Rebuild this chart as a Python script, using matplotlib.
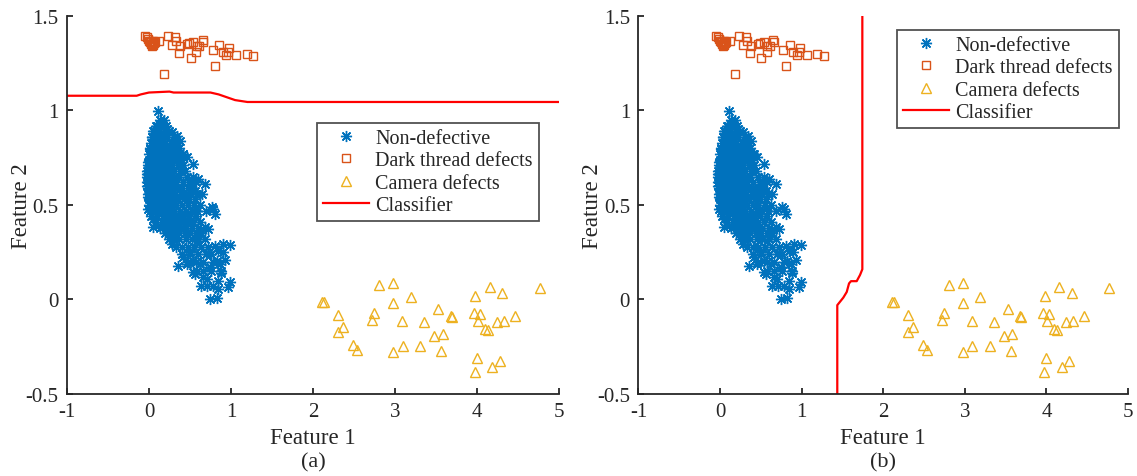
import numpy as np
import matplotlib
matplotlib.use('Agg')
import matplotlib.pyplot as plt

plt.rcParams['font.family'] = ['Liberation Serif', 'DejaVu Serif']
plt.rcParams['axes.unicode_minus'] = False

# non-defective samples: dense core read row by row (y, list of x)
nd_core_rows = [
    (0.95, [0.13, 0.18]),
    (0.92, [0.09, 0.15, 0.21]),
    (0.89, [0.06, 0.12, 0.19, 0.25]),
    (0.86, [0.04, 0.10, 0.16, 0.22, 0.30]),
    (0.83, [0.02, 0.08, 0.14, 0.20, 0.27, 0.34]),
    (0.80, [0.01, 0.06, 0.12, 0.18, 0.24, 0.31, 0.37]),
    (0.77, [0.00, 0.05, 0.11, 0.17, 0.23, 0.29, 0.36, 0.41]),
    (0.74, [0.00, 0.04, 0.09, 0.15, 0.21, 0.27, 0.33, 0.39]),
    (0.71, [-0.01, 0.04, 0.10, 0.16, 0.22, 0.28, 0.35, 0.42]),
    (0.68, [-0.02, 0.03, 0.08, 0.14, 0.20, 0.26, 0.31, 0.38]),
    (0.65, [-0.02, 0.02, 0.07, 0.13, 0.19, 0.25, 0.30, 0.37, 0.46, 0.54]),
    (0.62, [-0.02, 0.03, 0.09, 0.15, 0.21, 0.27, 0.33, 0.41, 0.49, 0.57]),
    (0.59, [-0.01, 0.04, 0.10, 0.16, 0.22, 0.28, 0.34, 0.40, 0.47, 0.53]),
    (0.56, [-0.01, 0.03, 0.08, 0.14, 0.20, 0.26, 0.32, 0.39, 0.45, 0.51, 0.59]),
    (0.53, [0.00, 0.05, 0.11, 0.17, 0.23, 0.29, 0.36, 0.43, 0.49, 0.56]),
    (0.50, [0.00, 0.04, 0.09, 0.15, 0.21, 0.27, 0.33, 0.40, 0.47, 0.55, 0.62]),
    (0.47, [0.01, 0.07, 0.13, 0.19, 0.25, 0.31, 0.38, 0.45, 0.52, 0.59, 0.69]),
    (0.44, [0.03, 0.10, 0.17, 0.23, 0.29, 0.36, 0.42, 0.49, 0.57]),
    (0.41, [0.08, 0.16, 0.22, 0.28, 0.34, 0.41, 0.47, 0.54, 0.62]),
    (0.38, [0.14, 0.21, 0.27, 0.33, 0.39, 0.45, 0.52, 0.60]),
    (0.35, [0.20, 0.26, 0.31, 0.37, 0.44, 0.50, 0.57, 0.64]),
    (0.32, [0.24, 0.30, 0.37, 0.45, 0.52, 0.60, 0.68]),
    (0.28, [0.33, 0.40, 0.47, 0.55, 0.64, 0.72]),
    (0.24, [0.40, 0.50, 0.60, 0.70, 0.76]),
    (0.20, [0.47, 0.57, 0.66, 0.78]),
    (0.15, [0.58, 0.66, 0.76, 0.88]),
    (0.07, [0.64, 0.71, 0.78]),
]

# non-defective samples scattered around the edge of the cluster
nd_edge = [
    (0.106, 0.999), (0.155, 0.937), (0.094, 0.920), (0.216, 0.902), (0.053, 0.893),
    (0.277, 0.885), (0.338, 0.867), (0.378, 0.840), (0.033, 0.858), (0.012, 0.796),
    (0.277, 0.823), (0.419, 0.770), (0.459, 0.752), (0.541, 0.717), (-0.008, 0.726),
    (-0.028, 0.664), (0.439, 0.682), (0.602, 0.638), (0.683, 0.611), (0.520, 0.629),
    (-0.028, 0.602), (-0.008, 0.541), (0.561, 0.576), (0.642, 0.558), (0.764, 0.488),
    (-0.008, 0.479), (0.785, 0.479), (0.805, 0.452), (0.053, 0.426), (0.175, 0.382),
    (0.276, 0.294), (0.419, 0.417), (0.683, 0.382), (0.581, 0.311), (0.724, 0.373),
    (0.805, 0.285), (0.907, 0.294), (0.988, 0.290), (0.846, 0.258), (0.419, 0.223),
    (0.358, 0.179), (0.459, 0.188), (0.541, 0.144), (0.561, 0.135), (0.663, 0.117),
    (0.703, 0.108), (0.825, 0.205), (0.866, 0.188), (0.744, 0.170), (0.622, 0.188),
    (0.846, 0.100), (0.988, 0.091), (0.967, 0.064), (0.846, 0.056), (0.744, 0.003),
    (0.825, 0.008), (0.500, 0.250), (0.541, 0.205), (0.052, 0.382), (0.90, 0.25),
    (0.93, 0.21), (0.88, 0.14),
]

dark_x = [-0.028, -0.049, -0.009, 0.012, 0.033, 0.053, 0.073, 0.02, 0.04, 0.0, 0.06, 0.03,
          0.05, 0.126, 0.236, 0.317, 0.329, 0.277, 0.378, 0.37, 0.467, 0.492, 0.54, 0.581,
          0.614, 0.573, 0.654, 0.662, 0.508, 0.777, 0.857, 0.899, 0.939, 0.979, 0.967,
          1.061, 1.191, 1.272, 0.805, 0.183]
dark_y = [1.387, 1.396, 1.378, 1.361, 1.352, 1.369, 1.361, 1.35, 1.34, 1.37, 1.355, 1.365,
          1.345, 1.369, 1.393, 1.387, 1.369, 1.347, 1.34, 1.304, 1.352, 1.357, 1.364, 1.343,
          1.34, 1.308, 1.375, 1.361, 1.276, 1.322, 1.347, 1.308, 1.294, 1.329, 1.308,
          1.294, 1.301, 1.287, 1.237, 1.191]

camera_x = [2.106, 2.138, 2.309, 2.362, 2.309, 2.492, 2.533, 2.805, 2.972, 3.191, 2.972,
            2.744, 2.723, 3.082, 2.972, 3.094, 3.305, 3.357, 3.524, 3.48, 3.582, 3.561,
            3.679, 3.691, 3.98, 4.159, 4.309, 3.96, 4.037, 4.009, 4.098, 4.13, 4.24, 4.329,
            4.463, 4.768, 3.996, 3.976, 4.187, 4.28]
camera_y = [-0.015, -0.015, -0.082, -0.147, -0.174, -0.241, -0.267, 0.077, 0.087, 0.015,
            -0.019, -0.073, -0.107, -0.115, -0.28, -0.248, -0.248, -0.121, -0.05, -0.195,
            -0.183, -0.271, -0.089, -0.094, 0.017, 0.065, 0.034, -0.071, -0.077, -0.115,
            -0.156, -0.161, -0.121, -0.112, -0.086, 0.059, -0.308, -0.382, -0.357, -0.325]

# decision boundaries
clf_a_x = [-1, -0.15, -0.1, 0.0, 0.25, 0.3, 0.75, 0.85, 0.95, 1.05, 1.2, 5]
clf_a_y = [1.078, 1.078, 1.085, 1.095, 1.10, 1.095, 1.095, 1.085, 1.07, 1.055, 1.045, 1.045]
clf_b_x = [1.437, 1.437, 1.511, 1.553, 1.581, 1.605, 1.675, 1.716, 1.744, 1.744]
clf_b_y = [-0.5, -0.03, 0.01, 0.04, 0.085, 0.097, 0.097, 0.13, 0.16, 1.5]

nd = [(x, y) for y, xs in nd_core_rows for x in xs] + nd_edge
nd_x = np.array([p[0] for p in nd])
nd_y = np.array([p[1] for p in nd])

blue = '#0072BD'
orange = '#D95319'
yellow = '#EDB120'
axcol = '#262626'


def draw_panel(ax, cx, cy, leg_anchor, tag):
    ax.plot(nd_x, nd_y, linestyle='none', marker=(8, 2, 0), ms=8, mec=blue, mew=1.0,
            label='Non-defective')
    ax.plot(dark_x, dark_y, linestyle='none', marker='s', ms=6, mfc='none', mec=orange,
            mew=1.0, label='Dark thread defects')
    ax.plot(camera_x, camera_y, linestyle='none', marker='^', ms=7, mfc='none', mec=yellow,
            mew=1.0, label='Camera defects')
    ax.plot(cx, cy, color='red', lw=1.6, label='Classifier')

    ax.set_xlim(-1, 5)
    ax.set_ylim(-0.5, 1.5)
    ax.set_xticks(range(-1, 6))
    ax.set_xticklabels(['-1', '0', '1', '2', '3', '4', '5'])
    ax.set_yticks([-0.5, 0, 0.5, 1, 1.5])
    ax.set_yticklabels(['-0.5', '0', '0.5', '1', '1.5'])
    for s in ['top', 'right']:
        ax.spines[s].set_visible(False)
    for s in ['left', 'bottom']:
        ax.spines[s].set_color(axcol)
        ax.spines[s].set_linewidth(1.3)
    ax.tick_params(direction='in', length=4, width=1.3, color=axcol, labelsize=15,
                   labelcolor=axcol)
    ax.tick_params(axis='x', pad=6)
    ax.tick_params(axis='y', pad=6)
    ax.set_xlabel('Feature 1', fontsize=16.5, color=axcol, labelpad=4)
    ax.set_ylabel('Feature 2', fontsize=16.5, color=axcol)
    ax.yaxis.set_label_coords(-0.072, 0.5)
    ax.text(0.5, -0.155, tag, transform=ax.transAxes, ha='center', va='top', fontsize=16,
            color=axcol)

    leg = ax.legend(loc='upper left', bbox_to_anchor=leg_anchor, borderaxespad=0,
                    fontsize=14.5, frameon=True, fancybox=False, handlelength=2.3,
                    handletextpad=0.3, labelspacing=0.16, borderpad=0.3, numpoints=1)
    leg.get_frame().set_edgecolor(axcol)
    leg.get_frame().set_linewidth(1.3)
    for t in leg.get_texts():
        t.set_color(axcol)


fig = plt.figure(figsize=(11.37, 4.77), dpi=100)
ax1 = fig.add_axes([0.0589, 0.1719, 0.4327, 0.7925])
ax2 = fig.add_axes([0.5615, 0.1719, 0.4306, 0.7925])

draw_panel(ax1, clf_a_x, clf_a_y, (0.508, 0.717), '(a)')
draw_panel(ax2, clf_b_x, clf_b_y, (0.528, 0.963), '(b)')

fig.savefig('out.png', dpi=100)
